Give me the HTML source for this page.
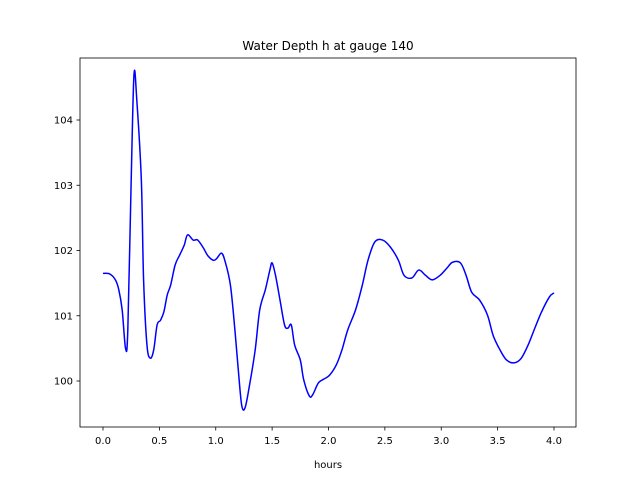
<!DOCTYPE html>
<html><head><meta charset="utf-8"><style>
body{margin:0;background:#fff;font-family:"Liberation Sans","DejaVu Sans",sans-serif}
svg text{font-family:"DejaVu Sans","Liberation Sans",sans-serif;font-size:10px;fill:#000}
</style></head><body>
<svg id="c" width="640" height="480">
<rect x="0" y="0" width="640" height="480" fill="#fff"/>
<text x="328" y="50" text-anchor="middle" style="font-size:12px">Water Depth h at gauge 140</text>
<text x="328" y="468" text-anchor="middle">hours</text>
<g id="ax"></g>
<path id="line" fill="none" stroke="#0000ff" stroke-width="1.5"/>
<rect x="80" y="58" width="496" height="369" fill="none" stroke="#000" stroke-width="0.8"/>
</svg>
<script>
const hours=[0,0.06,0.11,0.14,0.17,0.2,0.22,0.25,0.275,0.3,0.34,0.36,0.39,0.42,0.45,0.48,0.51,0.54,0.57,0.6,0.64,0.68,0.72,0.75,0.8,0.84,0.89,0.93,0.98,1.01,1.05,1.08,1.13,1.17,1.2,1.23,1.26,1.3,1.35,1.39,1.44,1.48,1.5,1.53,1.57,1.61,1.64,1.67,1.7,1.75,1.78,1.83,1.86,1.91,1.96,2.01,2.07,2.12,2.17,2.24,2.3,2.35,2.41,2.48,2.55,2.62,2.67,2.74,2.8,2.86,2.92,2.99,3.05,3.1,3.17,3.22,3.27,3.34,3.41,3.46,3.52,3.58,3.65,3.71,3.77,3.83,3.89,3.96,4.0];
const depth=[101.65,101.64,101.55,101.4,101.09,100.5,100.78,103.08,104.7,104.3,103.08,101.55,100.55,100.35,100.48,100.86,100.93,101.06,101.32,101.47,101.78,101.93,102.08,102.24,102.16,102.16,102.04,101.92,101.85,101.88,101.96,101.85,101.47,100.78,100.17,99.63,99.59,99.94,100.48,101.09,101.4,101.7,101.81,101.62,101.24,100.86,100.81,100.86,100.55,100.32,100.02,99.77,99.79,99.97,100.03,100.09,100.25,100.48,100.78,101.09,101.47,101.85,102.13,102.16,102.05,101.85,101.62,101.58,101.7,101.62,101.55,101.62,101.73,101.82,101.81,101.62,101.36,101.24,101.01,100.7,100.48,100.32,100.28,100.35,100.55,100.81,101.06,101.29,101.35];
const xTicks=["0.0","0.5","1.0","1.5","2.0","2.5","3.0","3.5","4.0"];
const yTicks=["100","101","102","103","104"];
const X=v=>103+v*112.75, Y=v=>381-(v-100)*65.25;
const NS="http://www.w3.org/2000/svg", ax=document.getElementById('ax');
function el(t,a,txt){const e=document.createElementNS(NS,t);for(const k in a)e.setAttribute(k,a[k]);if(txt)e.textContent=txt;ax.appendChild(e);return e;}
xTicks.forEach(t=>{const x=X(+t);
const l=el('line',{x1:x,x2:x,y1:427,y2:430.5,stroke:'#000','stroke-width':0.8});


const s=el('text',{x:x,y:444,'text-anchor':'middle'},t);

});
yTicks.forEach(t=>{const y=Y(+t);
const l=el('line',{x1:76.5,x2:80,y1:y,y2:y,stroke:'#000','stroke-width':0.8});


const s=el('text',{x:73,y:y+3.5,'text-anchor':'end'},t);

});
const p=hours.map((h,i)=>[X(h),Y(depth[i])]);
let d='M'+p[0][0]+','+p[0][1];
for(let i=0;i<p.length-1;i++){const a=p[Math.max(i-1,0)],b=p[i],c=p[i+1],e=p[Math.min(i+2,p.length-1)];
d+=' C'+(b[0]+(c[0]-a[0])/6)+','+(b[1]+(c[1]-a[1])/6)+' '+(c[0]-(e[0]-b[0])/6)+','+(c[1]-(e[1]-b[1])/6)+' '+c[0]+','+c[1];}
document.getElementById('line').setAttribute('d',d);
</script>
</body></html>
